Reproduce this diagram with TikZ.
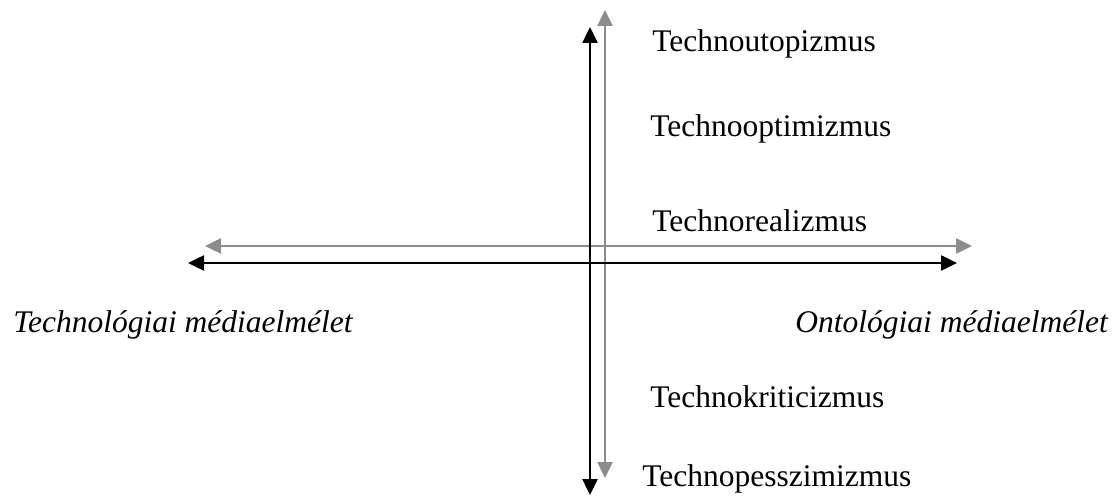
\documentclass[tikz,border=0pt]{standalone}
\usepackage{fontspec}
\setmainfont{Liberation Serif}
\usetikzlibrary{arrows.meta}

\definecolor{axisgray}{RGB}{140,140,140}
\tikzset{
  axis/.style={line width=1.25pt, {Triangle[length=8pt,width=7.5pt]}-{Triangle[length=8pt,width=7.5pt]}},
  label/.style={anchor=base west, inner sep=0pt, font=\fontsize{15.75pt}{18pt}\selectfont},
}

\begin{document}
\begin{tikzpicture}[x=0.5pt, y=-0.5pt]
  \useasboundingbox (0,0) rectangle (1112,496);

  % end points of the two crosses
  \coordinate (vb_top) at (590,27);
  \coordinate (vb_bot) at (590,495);
  \coordinate (vg_top) at (605,10);
  \coordinate (vg_bot) at (605,478);
  \coordinate (hg_left) at (205,246);
  \coordinate (hg_right) at (972,246);
  \coordinate (hb_left) at (188,263);
  \coordinate (hb_right) at (957,263);

  % gray cross, then black cross
  \draw [axis, axisgray] (hg_left) -- (hg_right);
  \draw [axis, axisgray] (vg_top) -- (vg_bot);
  \draw [axis, black] (hb_left) -- (hb_right);
  \draw [axis, black] (vb_top) -- (vb_bot);

  % labels
  \node [label] (utopia) at (652,52) {Technoutopizmus};
  \node [label] (optim) at (650,137) {Technooptimizmus};
  \node [label] (real) at (652,232) {Technorealizmus};
  \node [label] (techmedia) at (13,333) {\itshape Technológiai médiaelmélet};
  \node [label] (ontomedia) at (795,333) {\itshape Ontológiai médiaelmélet};
  \node [label] (crit) at (650,407) {Technokriticizmus};
  \node [label] (pessim) at (642,486) {Technopesszimizmus};
\end{tikzpicture}
\end{document}
